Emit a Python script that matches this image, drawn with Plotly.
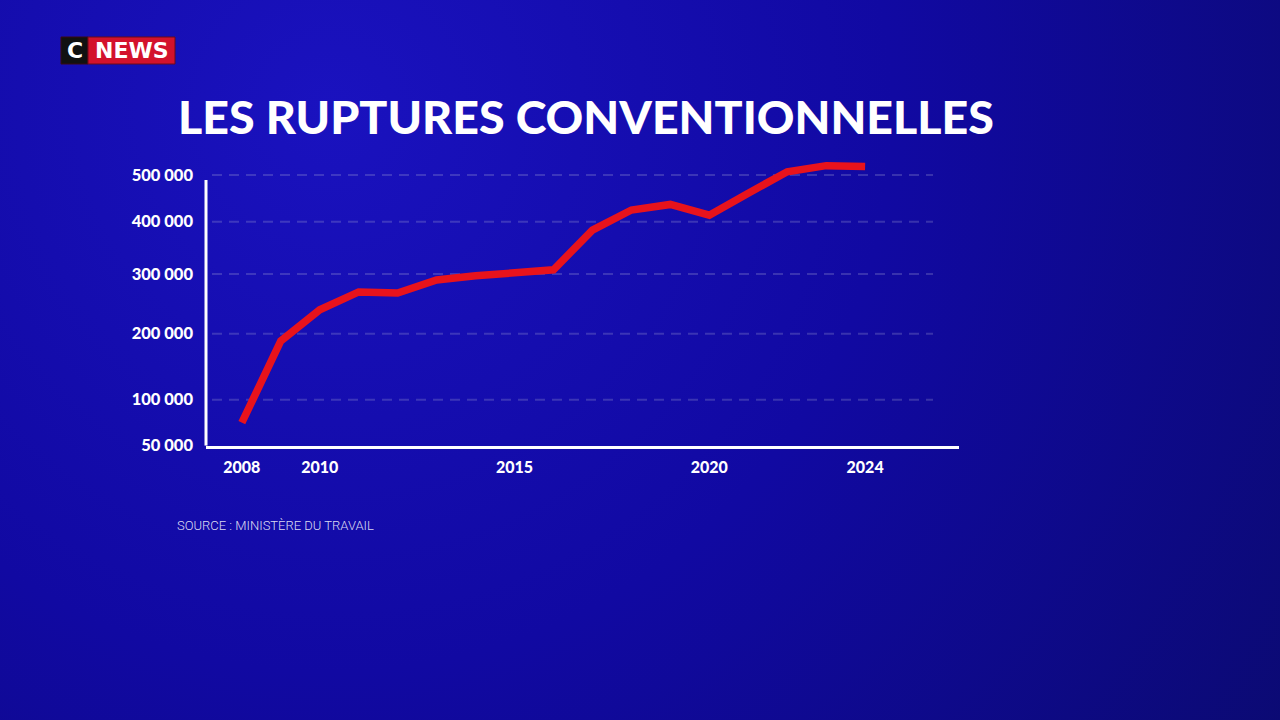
import base64
import numpy as np
import plotly.graph_objects as go

# Ruptures conventionnelles homologuees par an (lecture du graphique)
years = list(range(2008, 2025))
ruptures = [75000, 189000, 240000, 270000, 268000, 290000, 297000, 301000,
            308000, 384000, 425000, 437000, 414000, 461000, 507000, 520000, 518000]

tick_values = [50000, 100000, 200000, 300000, 400000, 500000]
tick_labels = ["50 000", "100 000", "200 000", "300 000", "400 000", "500 000"]
year_ticks = [2008, 2010, 2015, 2020, 2024]

# the graphic uses a hand-drawn, non linear vertical scale: place each tick
# where the designer put it and map the values piecewise between ticks
scale_pos = [0, 46, 112, 171.7, 224, 270.7]


def to_scale(v):
    if v <= tick_values[-1]:
        return float(np.interp(v, tick_values, scale_pos))
    slope = (scale_pos[-1] - scale_pos[-2]) / (tick_values[-1] - tick_values[-2])
    return scale_pos[-1] + (v - tick_values[-1]) * slope


y_scaled = [to_scale(v) for v in ruptures]
tick_pos = [to_scale(v) for v in tick_values]

W, H = 1280, 720

# background gradient as an inline svg
svg = (
    "<svg xmlns='http://www.w3.org/2000/svg' width='1280' height='720'>"
    "<defs><radialGradient id='g' cx='330' cy='110' r='1250' gradientUnits='userSpaceOnUse'>"
    "<stop offset='0' stop-color='#1a12bf'/>"
    "<stop offset='0.45' stop-color='#1109a2'/>"
    "<stop offset='1' stop-color='#0a0a6a'/>"
    "</radialGradient></defs>"
    "<rect width='1280' height='720' fill='url(#g)'/></svg>"
)
bg_src = "data:image/svg+xml;base64," + base64.b64encode(svg.encode()).decode()

fig = go.Figure()

fig.add_trace(go.Scatter(
    x=years, y=y_scaled,
    customdata=ruptures,
    mode="lines",
    line=dict(color="#e8131c", width=7.5),
    hovertemplate="%{x} : %{customdata:,.0f}<extra></extra>",
    showlegend=False,
))

shapes = []
# dashed grid lines
for p in tick_pos[1:]:
    shapes.append(dict(
        type="line", xref="paper", yref="y",
        x0=212 / W, x1=933 / W, y0=p, y1=p,
        line=dict(color="rgba(175,175,215,0.25)", width=2, dash="10px,7px"),
        layer="below",
    ))
# vertical axis line (stops short of the top)
shapes.append(dict(
    type="line", xref="x domain", yref="y",
    x0=0, x1=0, y0=0, y1=265.7,
    line=dict(color="white", width=3),
))
# logo boxes
shapes.append(dict(type="rect", xref="paper", yref="paper",
                   x0=61 / W, x1=88 / W, y0=1 - 64 / H, y1=1 - 37 / H,
                   fillcolor="#111111", line=dict(color="#3a0a14", width=1)))
shapes.append(dict(type="rect", xref="paper", yref="paper",
                   x0=88 / W, x1=175 / W, y0=1 - 64 / H, y1=1 - 37 / H,
                   fillcolor="#d3122c", line=dict(color="#6a0a1a", width=1)))

annotations = [
    dict(text="LES RUPTURES CONVENTIONNELLES", xref="paper", yref="paper",
         x=176 / W, y=1 - 116 / H, xanchor="left", yanchor="middle",
         showarrow=False,
         font=dict(family="Lato", size=46.5, color="white", weight=900)),
    dict(text="SOURCE : MINISTÈRE DU TRAVAIL", xref="paper", yref="paper",
         x=175 / W, y=1 - 525 / H, xanchor="left", yanchor="middle",
         showarrow=False,
         font=dict(family="Roboto, sans-serif", size=13, weight=300,
                   color="rgba(232,232,248,0.95)")),
    dict(text="C", xref="paper", yref="paper",
         x=75 / W, y=1 - 50.5 / H, xanchor="center", yanchor="middle",
         showarrow=False,
         font=dict(family="DejaVu Sans", size=22, color="white", weight=700)),
    dict(text="NEWS", xref="paper", yref="paper",
         x=131.5 / W, y=1 - 50.5 / H, xanchor="center", yanchor="middle",
         showarrow=False,
         font=dict(family="DejaVu Sans", size=22, color="white", weight=700)),
]

fig.update_layout(
    width=W, height=H,
    margin=dict(l=0, r=0, t=0, b=0),
    paper_bgcolor="#110a9c",
    plot_bgcolor="rgba(0,0,0,0)",
    shapes=shapes,
    annotations=annotations,
    images=[dict(source=bg_src, xref="paper", yref="paper",
                 x=0, y=1, sizex=1, sizey=1, sizing="stretch",
                 xanchor="left", yanchor="top", layer="below")],
    xaxis=dict(
        domain=[206 / W, 959 / W],
        range=[2007.08, 2026.41],
        tickvals=year_ticks,
        ticktext=[str(y) for y in year_ticks],
        showgrid=False, zeroline=False,
        showline=True, linecolor="white", linewidth=3,
        ticks="", ticklabelstandoff=5,
        tickfont=dict(family="Lato", size=16, color="white", weight=900),
        automargin=False,
    ),
    yaxis=dict(
        domain=[(H - 445.7) / H, (H - 150) / H],
        range=[0, 295.7],
        tickvals=tick_pos,
        ticktext=tick_labels,
        showgrid=False, zeroline=False, showline=False,
        ticks="", ticklabelstandoff=12,
        tickfont=dict(family="Lato", size=16.5, color="white", weight=900),
        automargin=False,
    ),
)

# drop the default page margin so the figure fills the window
fig.write_html("out.html", config={"displayModeBar": False},
               post_script="document.body.style.margin='0';")
